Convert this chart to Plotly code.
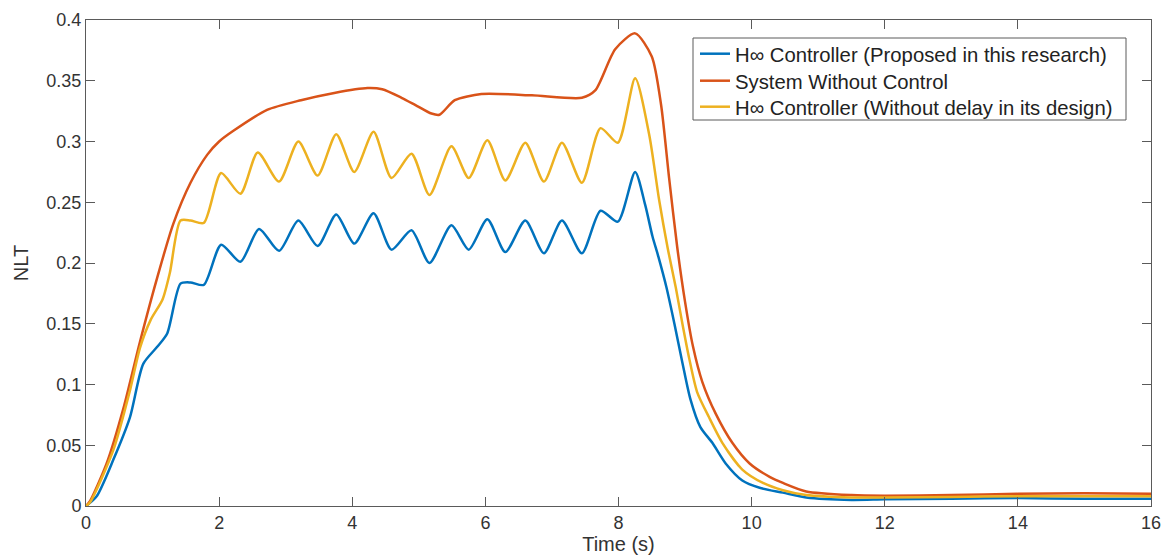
import plotly.graph_objects as go

# ---- data ----
t_blue = [0, 0.16, 0.41, 0.66, 0.86, 1.07, 1.22, 1.42, 1.57, 1.77, 2.03, 2.32, 2.6, 2.9, 3.19, 3.48,
          3.76, 4.03, 4.32, 4.59, 4.89, 5.16, 5.49, 5.75, 6.03, 6.3, 6.6, 6.88, 7.15, 7.45, 7.73,
          7.99, 8.25, 8.4, 8.51, 8.6, 8.72, 8.84, 8.96, 9.08, 9.23, 9.41, 9.61, 9.86, 10.12, 10.47,
          10.82, 11.5, 12, 13, 14, 15, 16]
blue = [0, 0.008, 0.038, 0.073, 0.117, 0.131, 0.142, 0.183, 0.184, 0.182, 0.215, 0.201, 0.228, 0.210,
        0.235, 0.214, 0.240, 0.216, 0.241, 0.211, 0.227, 0.200, 0.231, 0.211, 0.236, 0.209, 0.235,
        0.208, 0.235, 0.208, 0.243, 0.234, 0.275, 0.248, 0.222, 0.205, 0.180, 0.150, 0.118, 0.088,
        0.065, 0.052, 0.035, 0.021, 0.015, 0.011, 0.007, 0.005, 0.0055, 0.006, 0.0065, 0.006, 0.006]

t_red = [0, 0.06, 0.31, 0.56, 0.81, 1.07, 1.31, 1.57, 1.82, 2.0, 2.22, 2.72, 3.23, 3.73, 4.23, 4.45,
         4.74, 4.95, 5.19, 5.31, 5.54, 5.94, 6.7, 7.45, 7.65, 7.95, 8.25, 8.5, 8.64, 8.76, 8.88,
         9.0, 9.12, 9.26, 9.46, 9.71, 9.97, 10.27, 10.47, 10.82, 11.5, 12, 13, 14, 15, 16]
red = [0, 0.004, 0.035, 0.080, 0.135, 0.188, 0.232, 0.266, 0.289, 0.300, 0.309, 0.326, 0.334,
       0.340, 0.344, 0.343, 0.336, 0.330, 0.323, 0.322, 0.334, 0.339, 0.338, 0.336, 0.342, 0.376,
       0.389, 0.370, 0.330, 0.270, 0.214, 0.168, 0.131, 0.102, 0.076, 0.052, 0.035, 0.024, 0.019,
       0.012, 0.009, 0.0085, 0.009, 0.010, 0.0105, 0.010]

t_yel = [0, 0.06, 0.41, 0.66, 0.81, 0.97, 1.15, 1.26, 1.42, 1.57, 1.77, 2.03, 2.32, 2.58, 2.9, 3.19,
         3.48, 3.76, 4.03, 4.32, 4.59, 4.89, 5.16, 5.49, 5.75, 6.03, 6.3, 6.6, 6.88, 7.15, 7.45,
         7.73, 7.99, 8.25, 8.46, 8.61, 8.74, 8.86, 8.96, 9.06, 9.18, 9.36, 9.56, 9.86, 10.17,
         10.47, 10.82, 11.5, 12, 13, 14, 15, 16]
yel = [0, 0.003, 0.046, 0.095, 0.130, 0.153, 0.170, 0.192, 0.235, 0.235, 0.233, 0.274, 0.257,
       0.291, 0.267, 0.300, 0.272, 0.306, 0.275, 0.308, 0.270, 0.290, 0.256, 0.296, 0.270, 0.301,
       0.268, 0.299, 0.267, 0.299, 0.266, 0.311, 0.299, 0.352, 0.306, 0.252, 0.212, 0.180, 0.150,
       0.122, 0.094, 0.073, 0.052, 0.030, 0.019, 0.013, 0.009, 0.007, 0.007, 0.0075, 0.008, 0.008,
       0.008]

names = ["H\u221e Controller (Proposed in this research)",
         "System Without Control",
         "H\u221e Controller (Without delay in its design)"]
colors = ["#0072BD", "#D95319", "#EDB120"]

x_ticks = [0, 2, 4, 6, 8, 10, 12, 14, 16]
y_ticks = [0, 0.05, 0.1, 0.15, 0.2, 0.25, 0.3, 0.35, 0.4]
y_tick_text = ["0", "0.05", "0.1", "0.15", "0.2", "0.25", "0.3", "0.35", "0.4"]

FONT = "Liberation Sans, Arial, sans-serif"
W, H = 1164, 558
ML, MR, MT, MB = 86, 13, 20, 52
PW, PH = W - ML - MR, H - MT - MB

legend_ids = ["legend", "legend2", "legend3"]
legend_rows_px = [54, 81, 107]          # row centres (pixels from top)

fig = go.Figure()
for tx, ys, nm, col, lg in [(t_blue, blue, names[0], colors[0], legend_ids[0]),
                            (t_red, red, names[1], colors[1], legend_ids[1]),
                            (t_yel, yel, names[2], colors[2], legend_ids[2])]:
    fig.add_trace(go.Scatter(x=tx, y=ys, name=nm, mode="lines", legend=lg,
                             line=dict(color=col, width=2.5, shape="spline", smoothing=0.7)))

axis_common = dict(showline=True, linecolor="#5a5a5a", linewidth=1, mirror="ticks",
                   ticks="inside", ticklen=9, tickcolor="#5a5a5a", tickwidth=1,
                   showgrid=False, zeroline=False,
                   tickfont=dict(family=FONT, size=18, color="#333333"))

legend_layout = {}
for lg, rowpx in zip(legend_ids, legend_rows_px):
    legend_layout[lg] = dict(xref="paper", yref="paper",
                             x=(695 - ML) / PW, y=(H - MB - rowpx) / PH,
                             xanchor="left", yanchor="middle",
                             bgcolor="rgba(0,0,0,0)", borderwidth=0,
                             font=dict(family=FONT, size=20.3, color="#222222"),
                             itemwidth=30)

# legend frame (MATLAB style box)
box_x0, box_x1, box_top, box_bot = 693, 1126, 38, 120
fig.add_shape(type="rect", xref="paper", yref="paper",
              x0=(box_x0 - ML) / PW, x1=(box_x1 - ML) / PW,
              y0=(H - MB - box_bot) / PH, y1=(H - MB - box_top) / PH,
              line=dict(color="#5a5a5a", width=1), fillcolor="white", layer="above")

fig.update_layout(
    width=W, height=H,
    margin=dict(l=ML, r=MR, t=MT, b=MB, autoexpand=False),
    paper_bgcolor="white", plot_bgcolor="white",
    font=dict(family=FONT, color="#333333"),
    xaxis=dict(range=[0, 16], tickvals=x_ticks,
               title=dict(text="Time (s)", font=dict(family=FONT, size=20, color="#333333"),
                          standoff=0),
               **axis_common),
    yaxis=dict(range=[0, 0.4], tickvals=y_ticks, ticktext=y_tick_text,
               title=dict(text="NLT", font=dict(family=FONT, size=20, color="#333333"),
                          standoff=12),
               **axis_common),
    showlegend=True,
    **legend_layout,
)

fig.write_html("out.html")
